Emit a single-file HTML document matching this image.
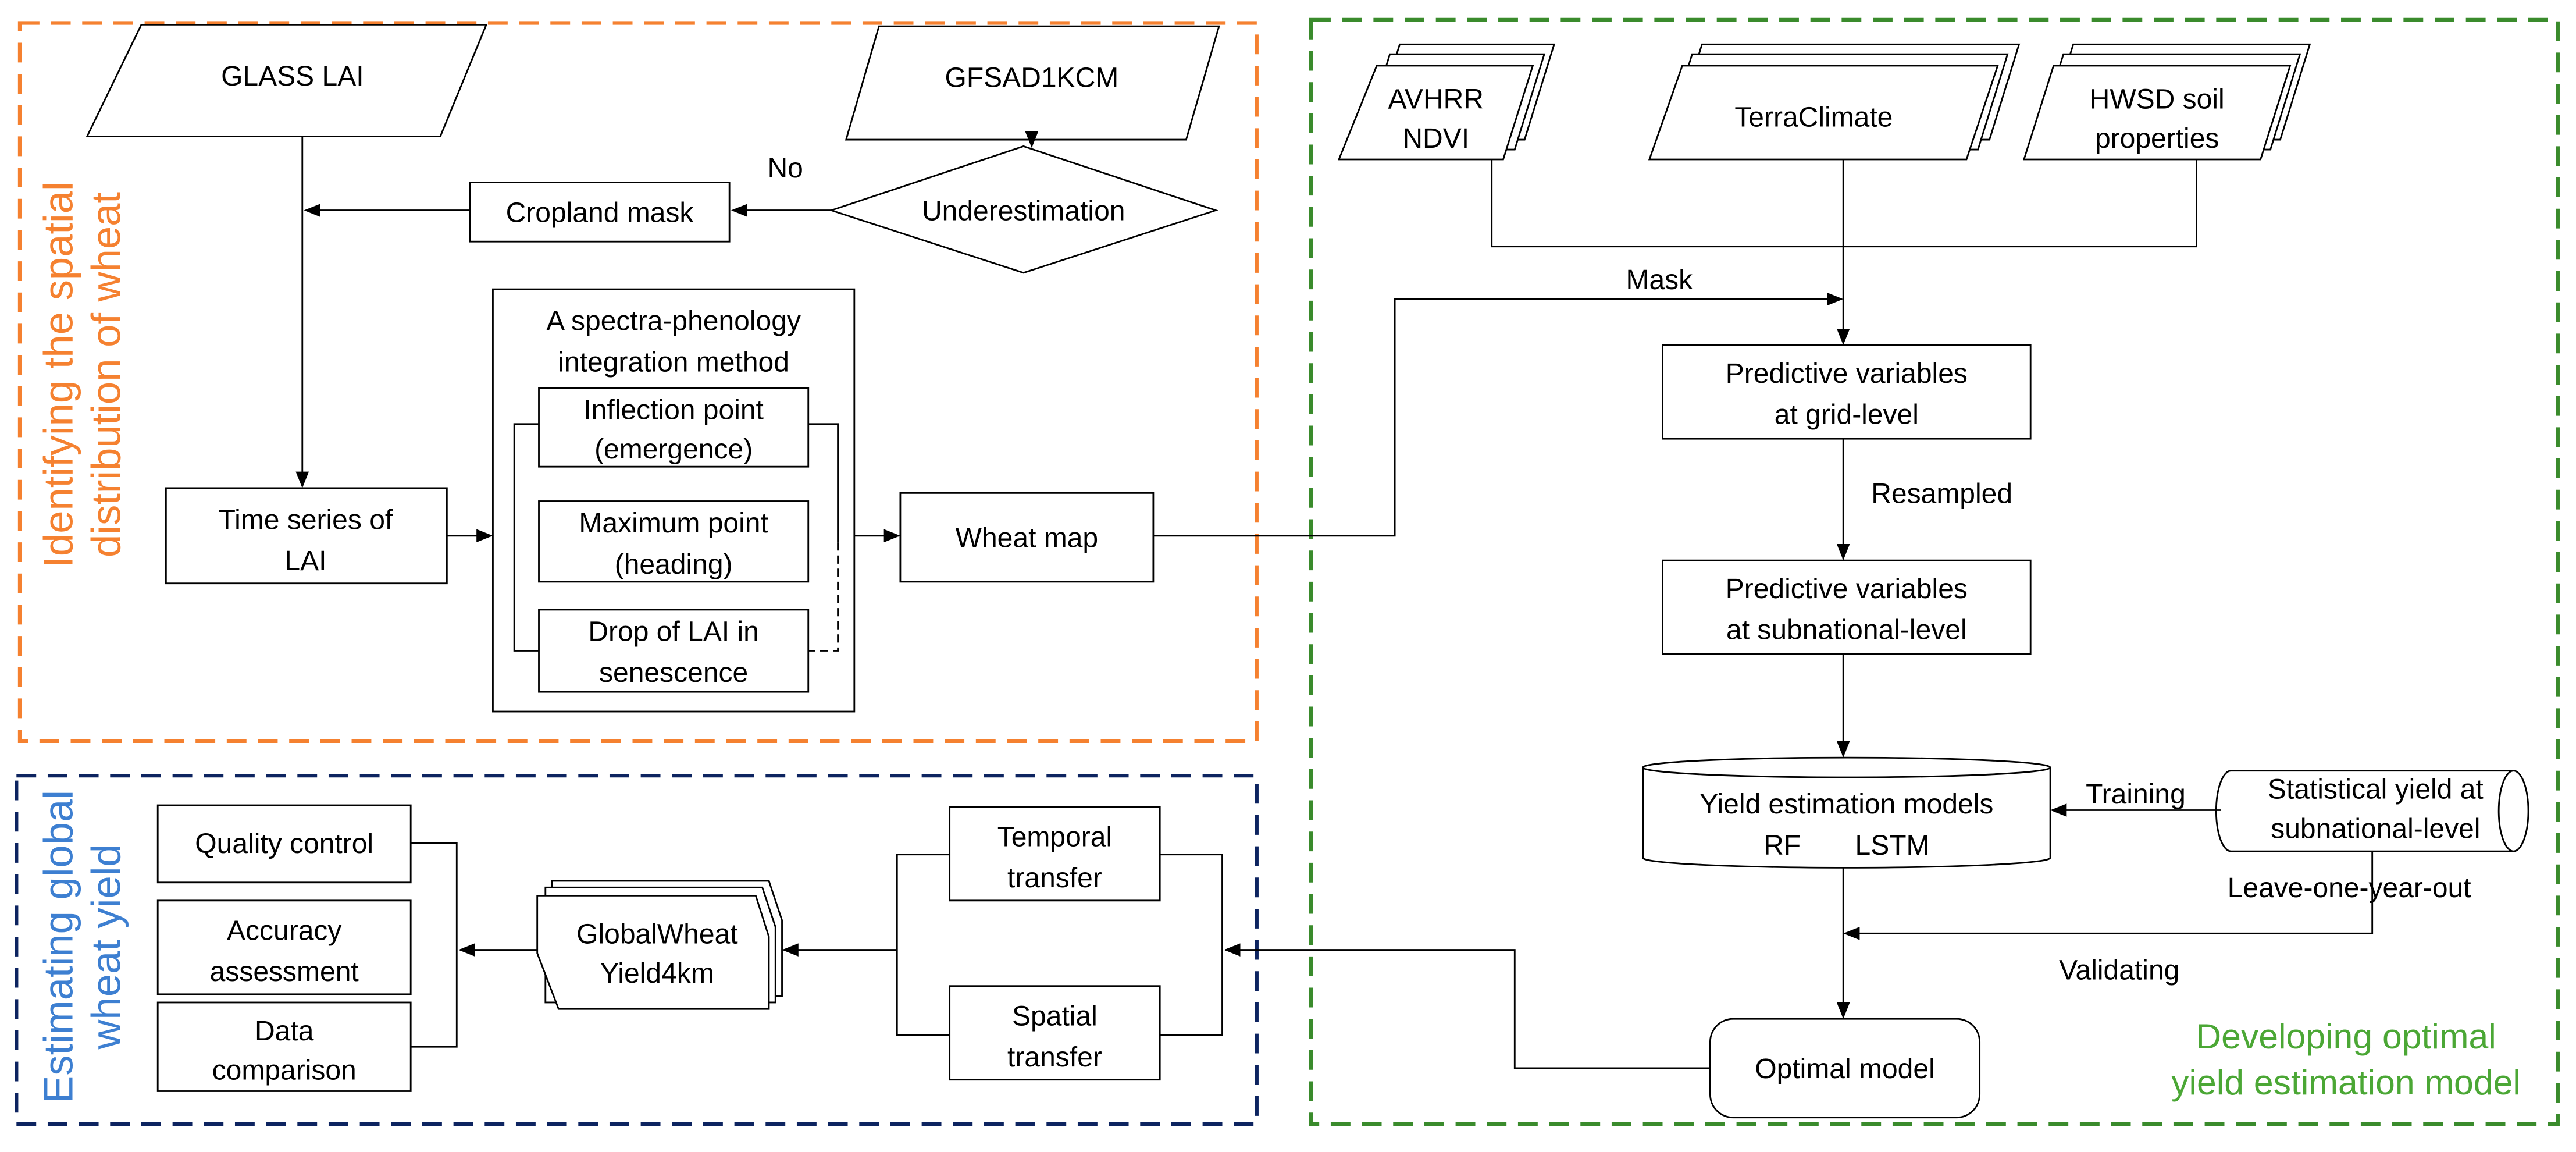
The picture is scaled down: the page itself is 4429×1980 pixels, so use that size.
<!DOCTYPE html>
<html><head><meta charset="utf-8"><style>
html,body{margin:0;padding:0;background:#fff;}
svg{display:block;}
text{font-family:"Liberation Sans",Arial,sans-serif;fill:#000;}
</style></head><body>
<svg width="4429" height="1980" viewBox="0 0 1568 701" xmlns="http://www.w3.org/2000/svg">
<defs>
<marker id="a" markerWidth="10" markerHeight="8" refX="9" refY="4" orient="auto" markerUnits="userSpaceOnUse"><path d="M0,0 L10,4 L0,8 Z" fill="#000"/></marker>
</defs>
<g fill="none" stroke-width="2.2" stroke-dasharray="12,7">
<rect x="12" y="14" width="753" height="437" stroke="#f58130"/>
<rect x="798" y="12" width="759" height="672" stroke="#3a8b2c"/>
<rect x="10" y="472" width="755" height="212" stroke="#0d2460"/>
</g>
<g fill="#fff" stroke="#000" stroke-width="1">
<polygon points="86,15 296,15 268,83 53,83"/>
<polygon points="535,16 742,16 722,85 515,85"/>
<polygon points="506,128 623,89 740,128 623,166"/>
<rect x="286" y="111" width="158" height="36"/>
<rect x="101" y="297" width="171" height="58"/>
<rect x="300" y="176" width="220" height="257"/>
<rect x="328" y="236" width="164" height="48"/>
<rect x="328" y="305" width="164" height="49"/>
<rect x="328" y="371" width="164" height="50"/>
<rect x="548" y="300" width="154" height="54"/>
<polygon points="852,27 946,27 928,85 834,85"/><polygon points="846,33 940,33 922,91 828,91"/><polygon points="838,40 933,40 915,97 815,97"/>
<polygon points="1036,27 1229,27 1211,85 1018,85"/><polygon points="1030,33 1222,33 1204,91 1012,91"/><polygon points="1024,40 1216,40 1197,97 1004,97"/>
<polygon points="1262,27 1406,27 1388,85 1244,85"/><polygon points="1256,33 1400,33 1382,91 1238,91"/><polygon points="1250,40 1394,40 1376,97 1232,97"/>
<rect x="1012" y="210" width="224" height="57"/>
<rect x="1012" y="341" width="224" height="57"/>
<path d="M1000,467 V522 A124,6 0 0 0 1248,522 V467"/>
<ellipse cx="1124" cy="467" rx="124" ry="6"/>
<path d="M1358,469 H1530 A9,24.5 0 0 1 1530,518 H1358 A9,24.5 0 0 1 1358,469 Z"/>
<path d="M1530,469 A9,24.5 0 0 0 1530,518"/>
<rect x="1041" y="620" width="164" height="60" rx="14"/>
<rect x="578" y="491" width="128" height="57"/>
<rect x="578" y="600" width="128" height="57"/>
<polygon points="336,536 468,536 476,560 476,606 336,606"/>
<polygon points="332,540 464,540 472,564 472,610 332,610"/>
<polygon points="327,545 460,545 468,570 468,614 340,614 327,580"/>
<rect x="96" y="490" width="154" height="47"/>
<rect x="96" y="548" width="154" height="57"/>
<rect x="96" y="610" width="154" height="54"/>
</g>
<g fill="none" stroke="#000" stroke-width="1">
<path d="M184,83 V296" marker-end="url(#a)"/>
<path d="M506,128 H446" marker-end="url(#a)"/>
<path d="M286,128 H186" marker-end="url(#a)"/>
<path d="M628,85 V89" marker-end="url(#a)"/>
<path d="M272,326 H299" marker-end="url(#a)"/>
<path d="M520,326 H547" marker-end="url(#a)"/>
<path d="M328,258 H313 V396 H328"/>
<path d="M492,258 H510 V330"/>
<path d="M510,330 V396 H492" stroke-dasharray="5,3"/>
<path d="M702,326 H849 V182 H1121" marker-end="url(#a)"/>
<path d="M908,97 V150 H1337 V97"/>
<path d="M1122,97 V209" marker-end="url(#a)"/>
<path d="M1122,267 V340" marker-end="url(#a)"/>
<path d="M1122,398 V460" marker-end="url(#a)"/>
<path d="M1352,493 H1249" marker-end="url(#a)"/>
<path d="M1444,518 V568 H1123" marker-end="url(#a)"/>
<path d="M1122,528 V619" marker-end="url(#a)"/>
<path d="M1041,650 H922 V578 H746" marker-end="url(#a)"/>
<path d="M578,520 H546 V630 H578 M706,520 H744 V630 H706"/>
<path d="M546,578 H477" marker-end="url(#a)"/>
<path d="M327,578 H280" marker-end="url(#a)"/>
<path d="M250,513 H278 V637 H250"/>
</g>
<g font-size="17" text-anchor="middle">
<text x="178" y="52">GLASS LAI</text>
<text x="628" y="53">GFSAD1KCM</text>
<text x="623" y="134">Underestimation</text>
<text x="478" y="108">No</text>
<text x="365" y="135">Cropland mask</text>
<text x="186" y="322">Time series of</text>
<text x="186" y="347">LAI</text>
<text x="410" y="201">A spectra-phenology</text>
<text x="410" y="226">integration method</text>
<text x="410" y="255">Inflection point</text>
<text x="410" y="279">(emergence)</text>
<text x="410" y="324">Maximum point</text>
<text x="410" y="349">(heading)</text>
<text x="410" y="390">Drop of LAI in</text>
<text x="410" y="415">senescence</text>
<text x="625" y="333">Wheat map</text>
<text x="874" y="66">AVHRR</text>
<text x="874" y="90">NDVI</text>
<text x="1104" y="77">TerraClimate</text>
<text x="1313" y="66">HWSD soil</text>
<text x="1313" y="90">properties</text>
<text x="1010" y="176">Mask</text>
<text x="1124" y="233">Predictive variables</text>
<text x="1124" y="258">at grid-level</text>
<text x="1182" y="306">Resampled</text>
<text x="1124" y="364">Predictive variables</text>
<text x="1124" y="389">at subnational-level</text>
<text x="1124" y="495">Yield estimation models</text>
<text x="1124" y="520" xml:space="preserve">RF       LSTM</text>
<text x="1300" y="489">Training</text>
<text x="1446" y="486">Statistical yield at</text>
<text x="1446" y="510">subnational-level</text>
<text x="1430" y="546">Leave-one-year-out</text>
<text x="1290" y="596">Validating</text>
<text x="1123" y="656">Optimal model</text>
<text x="642" y="515">Temporal</text>
<text x="642" y="540">transfer</text>
<text x="642" y="624">Spatial</text>
<text x="642" y="649">transfer</text>
<text x="400" y="574">GlobalWheat</text>
<text x="400" y="598">Yield4km</text>
<text x="173" y="519">Quality control</text>
<text x="173" y="572">Accuracy</text>
<text x="173" y="597">assessment</text>
<text x="173" y="633">Data</text>
<text x="173" y="657">comparison</text>
</g>
<g text-anchor="middle">
<text x="1428" y="638" font-size="21.5" style="fill:#4ba735">Developing optimal</text>
<text x="1428" y="666" font-size="21.5" style="fill:#4ba735">yield estimation model</text>
<text transform="translate(44,228) rotate(-90)" font-size="25" style="fill:#f58130">Identifying the spatial</text>
<text transform="translate(73,228) rotate(-90)" font-size="25" style="fill:#f58130">distribution of wheat</text>
<text transform="translate(44,576) rotate(-90)" font-size="25" style="fill:#3d7fd1">Estimating global</text>
<text transform="translate(73,576) rotate(-90)" font-size="25" style="fill:#3d7fd1">wheat yield</text>
</g>
</svg>
</body></html>
